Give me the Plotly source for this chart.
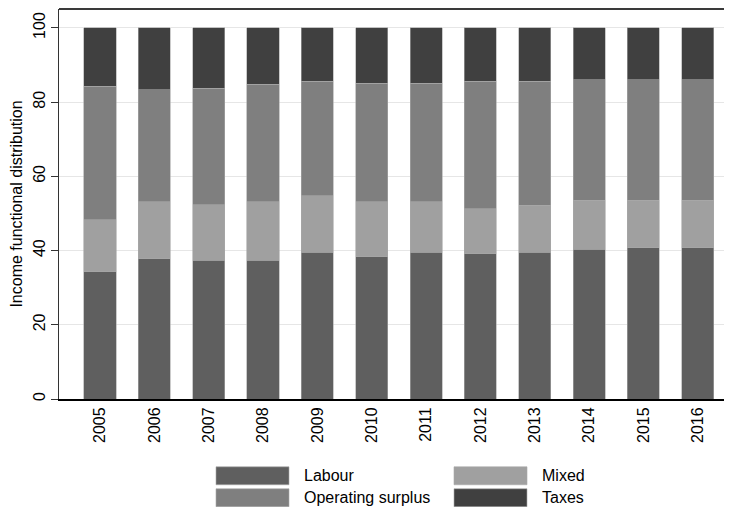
import plotly.graph_objects as go

# values (shares of income, %)
years = ['2005', '2006', '2007', '2008', '2009', '2010',
         '2011', '2012', '2013', '2014', '2015', '2016']
labour = [34.3, 37.8, 37.4, 37.4, 39.5, 38.3, 39.5, 39.1, 39.5, 40.4, 40.8, 40.8]
mixed = [14.0, 15.3, 14.9, 15.7, 15.3, 14.8, 13.6, 12.2, 12.7, 13.1, 12.7, 12.7]
operating_surplus = [36.0, 30.3, 31.5, 31.7, 30.8, 32.0, 32.0, 34.3, 33.4, 32.5, 32.5, 32.5]
taxes = [15.7, 16.6, 16.2, 15.2, 14.4, 14.9, 14.9, 14.4, 14.4, 14.0, 14.0, 14.0]

ytick_vals = [0, 20, 40, 60, 80, 100]

FONT = 'Liberation Sans, Arial, sans-serif'
# the page body adds an 8px margin, so the figure is drawn 8px in from the corner
OFF = 8
W, H = 732 - OFF, 515 - 2 * OFF
PL, PT, PR, PB = 59 - OFF, 8 - OFF, 732 - OFF, 399 - OFF  # plot area in figure pixels


def px_x(px):
    return (px - OFF - PL) / (PR - PL)


def px_y(py):
    return (PB - (py - OFF)) / (PB - PT)


series = [
    ('Labour', labour, '#5f5f5f'),
    ('Mixed', mixed, '#a0a0a0'),
    ('Operating surplus', operating_surplus, '#7f7f7f'),
    ('Taxes', taxes, '#404040'),
]

fig = go.Figure()
for name, vals, color in series:
    fig.add_trace(go.Bar(x=years, y=vals, name=name,
                         marker=dict(color=color, line=dict(width=0.6, color='#a8a8a8')),
                         showlegend=False))

# hand-drawn legend with the wide swatches of the original (page pixels)
legend_pos = {
    'Labour': (216, 467),
    'Mixed': (454, 467),
    'Operating surplus': (216, 489),
    'Taxes': (454, 489),
}
shapes = []
annotations = []
for name, vals, color in series:
    x0, y0 = legend_pos[name]
    shapes.append(dict(type='rect', xref='paper', yref='paper',
                       x0=px_x(x0), x1=px_x(x0 + 73),
                       y0=px_y(y0), y1=px_y(y0 + 18),
                       fillcolor=color, line=dict(width=0.6, color='#a8a8a8')))
    annotations.append(dict(text=name, xref='paper', yref='paper',
                            x=px_x(x0 + 86), y=px_y(y0 + 9),
                            xanchor='left', yanchor='middle', showarrow=False,
                            font=dict(family=FONT, size=16, color='#000')))

# top frame line
shapes.append(dict(type='line', xref='paper', yref='paper', x0=0, x1=1, y0=1, y1=1,
                   line=dict(color='#3a3a3a', width=2)))

fig.update_layout(
    width=W, height=H,
    margin=dict(l=PL, r=W - PR, t=PT + 1, b=H - PB),
    barmode='stack', bargap=0.41,
    plot_bgcolor='white', paper_bgcolor='white',
    font=dict(family=FONT, size=16, color='#000'),
    shapes=shapes, annotations=annotations,
)
fig.update_xaxes(type='category', range=[-0.754, 11.63],
                 tickangle=-90, showline=True, linecolor='#000', linewidth=2,
                 ticks='', showgrid=False, zeroline=False,
                 tickfont=dict(size=16))
fig.update_yaxes(range=[0, 105.1], tickvals=ytick_vals, tickangle=-90,
                 ticks='outside', ticklen=7, tickcolor='#333',
                 showline=True, linecolor='#333', linewidth=1,
                 showgrid=True, gridcolor='#e6e6e6', zeroline=False,
                 tickfont=dict(size=16),
                 title=dict(text='Income functional distribution',
                            font=dict(size=16), standoff=4))

fig.write_html("out.html")
